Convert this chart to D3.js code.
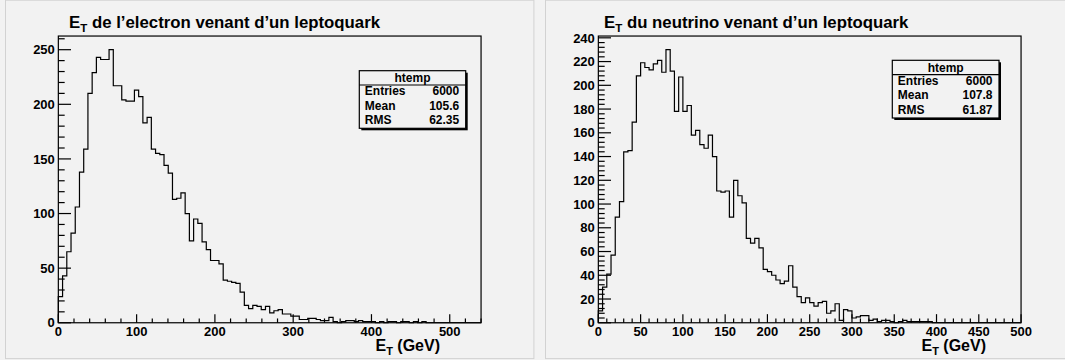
<!DOCTYPE html>
<html>
<head>
<meta charset="utf-8">
<script src="https://cdn.jsdelivr.net/npm/d3@7"></script>
<style>
    body { margin: 0; background: #f2f2f2; }
    text { font-family: "Liberation Sans", Arial, Helvetica, sans-serif; font-weight: bold; fill: #000; }
</style>
</head>
<body>
<script>
// bin contents (100 bins each)
const elecCounts = [
    24, 43, 65, 82, 106, 138, 159, 210, 229, 243,
    241, 241, 250, 217, 217, 204, 203, 203, 213, 207,
    183, 188, 159, 155, 154, 144, 137, 113, 114, 119,
    100, 75, 95, 91, 74, 67, 57, 57, 54, 39,
    38, 37, 36, 28, 16, 13, 16, 15, 12, 15,
    9, 11, 12, 8, 8, 6, 6, 3, 3, 4,
    4, 3, 2, 2, 5, 1, 0, 1, 2, 2,
    1, 2, 1, 1, 1, 0, 1, 0, 1, 1,
    0, 1, 1, 0, 1, 0, 1, 0, 0, 0,
    0, 0, 0, 0, 0, 0, 0, 0, 0, 0
];
const nuCounts = [
    10, 30, 41, 57, 89, 102, 144, 145, 169, 208,
    219, 215, 213, 218, 221, 211, 230, 212, 178, 207,
    178, 183, 158, 162, 150, 147, 158, 140, 111, 110,
    111, 89, 120, 107, 101, 71, 67, 71, 63, 45,
    43, 40, 36, 33, 35, 48, 30, 22, 17, 21,
    17, 14, 17, 18, 8, 10, 16, 2, 11, 10,
    4, 5, 6, 6, 2, 3, 1, 2, 2, 1,
    0, 1, 2, 1, 1, 1, 1, 1, 1, 0,
    0, 0, 0, 0, 0, 0, 0, 0, 0, 0,
    0, 0, 0, 0, 0, 0, 0, 0, 0, 0
];

const elecRange = [0, 540];
const nuRange = [0, 500];

const elecStats = [["Entries", "6000"], ["Mean", "105.6"], ["RMS", "62.35"]];
const nuStats = [["Entries", "6000"], ["Mean", "107.8"], ["RMS", "61.87"]];

const elecTitle = " de l\u2019electron venant d\u2019un leptoquark";
const nuTitle = " du neutrino venant d\u2019un leptoquark";

const svg = d3.select("body")
    .append("svg")
    .attr("width", 1065)
    .attr("height", 360);

svg.append("rect")
    .attr("width", 1065).attr("height", 360)
    .attr("fill", "#f2f2f2");

function drawPanel(opt) {
    let pad = opt.pad;
    let g = svg.append("g");

    // pad with a thin border
    g.append("rect")
        .attr("x", pad.x).attr("y", pad.y)
        .attr("width", pad.w).attr("height", pad.h)
        .attr("fill", "#f2f2f2")
        .attr("stroke", "#d2d2d2")
        .attr("stroke-width", 1);

    let fx0 = pad.x + 0.1 * pad.w, fx1 = pad.x + 0.9 * pad.w;
    let fy0 = pad.y + 0.1 * pad.h, fy1 = pad.y + 0.9 * pad.h;

    let counts = opt.counts;
    let nbins = counts.length;
    let ymax = d3.max(counts) * 1.05;

    let x = d3.scaleLinear().domain(opt.range).range([fx0, fx1]);
    let y = d3.scaleLinear().domain([0, ymax]).range([fy1, fy0]);
    let bw = (opt.range[1] - opt.range[0]) / nbins;

    // histogram outline
    let pts = [[opt.range[0], 0]];
    counts.forEach(function (c, i) {
        pts.push([opt.range[0] + i * bw, c]);
        pts.push([opt.range[0] + (i + 1) * bw, c]);
    });
    pts.push([opt.range[1], 0]);

    g.append("path")
        .datum(pts)
        .attr("fill", "none")
        .attr("stroke", "#000")
        .attr("stroke-width", 1.2)
        .attr("d", d3.line()
            .x(d => x(d[0]))
            .y(d => y(d[1])));

    // frame
    g.append("rect")
        .attr("x", fx0).attr("y", fy0)
        .attr("width", fx1 - fx0).attr("height", fy1 - fy0)
        .attr("fill", "none")
        .attr("stroke", "#000")
        .attr("stroke-width", 1.2);

    // y axis ticks (inside the frame)
    let yMinor = d3.range(0, ymax + 1e-9, opt.yStep / 5);
    g.append("g").selectAll("line")
        .data(yMinor)
        .enter()
        .append("line")
        .attr("x1", fx0)
        .attr("x2", d => fx0 + (Math.abs(d / opt.yStep - Math.round(d / opt.yStep)) < 1e-6 ? 0.03 : 0.015) * (fx1 - fx0))
        .attr("y1", d => y(d)).attr("y2", d => y(d))
        .attr("stroke", "#000").attr("stroke-width", 1.2);

    g.append("g").selectAll("text")
        .data(d3.range(0, ymax + 1e-9, opt.yStep))
        .enter()
        .append("text")
        .attr("x", fx0 - 3.5)
        .attr("y", d => y(d))
        .attr("dy", "0.36em")
        .attr("text-anchor", "end")
        .attr("font-size", 13)
        .text(d => d);

    // x axis ticks
    let xMinor = d3.range(opt.range[0], opt.range[1] + 1e-9, opt.xStep / 5);
    g.append("g").selectAll("line")
        .data(xMinor)
        .enter()
        .append("line")
        .attr("x1", d => x(d)).attr("x2", d => x(d))
        .attr("y1", fy1)
        .attr("y2", d => fy1 - (Math.abs(d / opt.xStep - Math.round(d / opt.xStep)) < 1e-6 ? 0.03 : 0.015) * (fy1 - fy0))
        .attr("stroke", "#000").attr("stroke-width", 1.2);

    g.append("g").selectAll("text")
        .data(d3.range(opt.range[0], opt.range[1] + 1e-9, opt.xStep))
        .enter()
        .append("text")
        .attr("x", d => x(d))
        .attr("y", fy1 + 13.5)
        .attr("text-anchor", "middle")
        .attr("font-size", 13)
        .text(d => d);

    // x axis title
    let xt = g.append("text")
        .attr("x", opt.xTitleEnd)
        .attr("y", 351)
        .attr("text-anchor", "end")
        .attr("font-size", 16);
    xt.append("tspan").text("E");
    xt.append("tspan").attr("font-size", 11).attr("dy", 3.5).text("T");
    xt.append("tspan").attr("dy", -3.5).text(" (GeV)");

    // histogram title
    let tt = g.append("text")
        .attr("x", opt.titleX)
        .attr("y", 28)
        .attr("font-size", 16.8);
    tt.append("tspan").text("E");
    tt.append("tspan").attr("font-size", 11.5).attr("dy", 3.5).text("T");
    tt.append("tspan").attr("dy", -3.5).text(opt.title);

    // stats box
    let sb = opt.statsBox;
    g.append("rect")
        .attr("x", sb.x + 2).attr("y", sb.y + 2)
        .attr("width", sb.w).attr("height", sb.h)
        .attr("fill", "#000");
    g.append("rect")
        .attr("x", sb.x).attr("y", sb.y)
        .attr("width", sb.w).attr("height", sb.h)
        .attr("fill", "#f2f2f2")
        .attr("stroke", "#000")
        .attr("stroke-width", 1.2);
    g.append("line")
        .attr("x1", sb.x).attr("x2", sb.x + sb.w)
        .attr("y1", sb.y + 14.3).attr("y2", sb.y + 14.3)
        .attr("stroke", "#000").attr("stroke-width", 1.2);
    g.append("text")
        .attr("x", sb.x + sb.w / 2)
        .attr("y", sb.y + 11.5)
        .attr("text-anchor", "middle")
        .attr("font-size", 12)
        .text("htemp");

    opt.stats.forEach(function (row, i) {
        g.append("text")
            .attr("x", sb.x + 5.5)
            .attr("y", sb.y + 24.5 + i * 14.4)
            .attr("font-size", 12)
            .text(row[0]);
        g.append("text")
            .attr("x", sb.x + sb.w - 6.5)
            .attr("y", sb.y + 24.5 + i * 14.4)
            .attr("text-anchor", "end")
            .attr("font-size", 12)
            .text(row[1]);
    });
}

drawPanel({
    pad: {x: 5.5, y: 0.2, w: 528.4, h: 358.4},
    counts: elecCounts,
    range: elecRange,
    xStep: 100,
    yStep: 50,
    title: elecTitle,
    titleX: 69,
    xTitleEnd: 440,
    stats: elecStats,
    statsBox: {x: 359.3, y: 70.7, w: 106.4, h: 57.6}
});

drawPanel({
    pad: {x: 545.5, y: 0.2, w: 528.4, h: 358.4},
    counts: nuCounts,
    range: nuRange,
    xStep: 50,
    yStep: 20,
    title: nuTitle,
    titleX: 604,
    xTitleEnd: 986,
    stats: nuStats,
    statsBox: {x: 892.3, y: 60.3, w: 106.7, h: 57.7}
});
</script>
</body>
</html>
